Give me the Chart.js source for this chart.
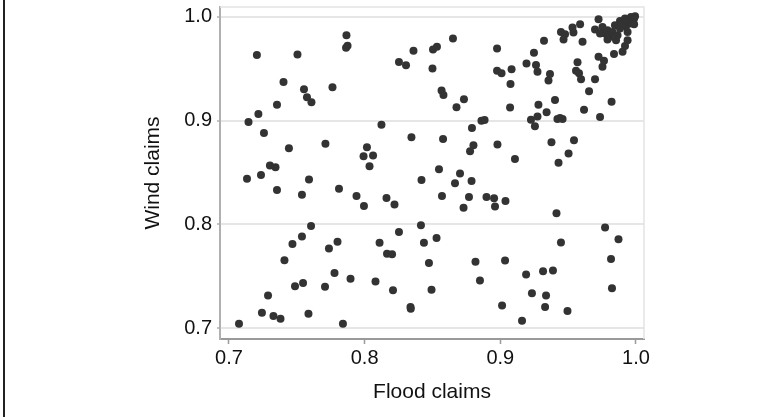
<!DOCTYPE html>
<html>
<head>
<meta charset="utf-8">
<script src="https://cdn.jsdelivr.net/npm/chart.js@4.4.1/dist/chart.umd.min.js"></script>
<style>
    html, body { margin: 0; padding: 0; background: #fff; }
    #wrap { position: relative; width: 784px; height: 417px; }
    #edge { position: absolute; left: 3px; top: 0; width: 2px; height: 417px; background: #222; }
</style>
</head>
<body>
<div id="wrap">
    <canvas id="scatterChart" width="784" height="417"></canvas>
    <div id="edge"></div>
</div>
<script>
const floodClaims = [
    0.7074, 0.7144, 0.7133, 0.7206, 0.7217, 0.7258, 0.7236, 0.7243, 0.7288, 0.7302,
    0.7343, 0.7328, 0.7380, 0.7354, 0.7354, 0.7402, 0.7442, 0.7409, 0.7468, 0.7487,
    0.7505, 0.7538, 0.7538, 0.7546, 0.7553, 0.7575, 0.7608, 0.7590, 0.7605, 0.7586,
    0.7711, 0.7708, 0.7763, 0.7737, 0.7800, 0.7778, 0.7811, 0.7840, 0.7866, 0.7874,
    0.7863, 0.7896, 0.7940, 0.7995, 0.7992, 0.8017, 0.8062, 0.8036, 0.8080, 0.8110,
    0.8124, 0.8161, 0.8165, 0.8202, 0.8220, 0.8209, 0.8253, 0.8305, 0.8253, 0.8345,
    0.8338, 0.8340, 0.8360, 0.8419, 0.8415, 0.8437, 0.8474, 0.8493, 0.8500, 0.8504,
    0.8533, 0.8530, 0.8548, 0.8567, 0.8581, 0.8578, 0.8570, 0.8651, 0.8677, 0.8666,
    0.8703, 0.8732, 0.8729, 0.8769, 0.8788, 0.8777, 0.8802, 0.8791, 0.8817, 0.8850,
    0.8861, 0.8884, 0.8898, 0.8954, 0.8961, 0.8976, 0.8976, 0.9009, 0.8979, 0.9038,
    0.9013, 0.9035, 0.9075, 0.9072, 0.9083, 0.9108, 0.9160, 0.9190, 0.9193, 0.9226,
    0.9233, 0.9248, 0.9255, 0.9263, 0.9274, 0.9281, 0.9274, 0.9322, 0.9315, 0.9330,
    0.9337, 0.9341, 0.9355, 0.9366, 0.9377, 0.9388, 0.9403, 0.9414, 0.9421, 0.9429,
    0.9440, 0.9447, 0.9459, 0.9447, 0.9466, 0.9477, 0.9495, 0.9503, 0.9532, 0.9539,
    0.9543, 0.9558, 0.9569, 0.9580, 0.9588, 0.9595, 0.9606, 0.9617, 0.9654, 0.9698,
    0.9698, 0.9724, 0.9724, 0.9735, 0.9753, 0.9764, 0.9772, 0.9816, 0.9823, 0.9820,
    0.9838, 0.9871, 0.9901, 0.9919, 0.9938, 0.9753, 0.9772, 0.9790, 0.9808, 0.9827,
    0.9845, 0.9864, 0.9882, 0.9882, 0.9901, 0.9919, 0.9926, 0.9938, 0.9949, 0.9956,
    0.9963, 0.9975, 0.9986, 0.9993, 0.9986, 0.9790, 0.9853, 0.9735
];

const windClaims = [
    0.7042, 0.8986, 0.8440, 0.9632, 0.9063, 0.8880, 0.8475, 0.7147, 0.7314, 0.8567,
    0.8551, 0.7115, 0.7090, 0.8330, 0.9153, 0.9373, 0.8734, 0.7653, 0.7810, 0.7403,
    0.9639, 0.7883, 0.8286, 0.7435, 0.9303, 0.9226, 0.9178, 0.8433, 0.7985, 0.7138,
    0.8778, 0.7397, 0.9322, 0.7768, 0.7832, 0.7531, 0.8343, 0.7042, 0.9824, 0.9722,
    0.9703, 0.7474, 0.8273, 0.8177, 0.8657, 0.8743, 0.8663, 0.8561, 0.7448, 0.7822,
    0.8961, 0.8254, 0.7717, 0.7711, 0.8190, 0.7365, 0.9565, 0.9533, 0.7925, 0.8839,
    0.7202, 0.7186, 0.9674, 0.8427, 0.7992, 0.7822, 0.7627, 0.7368, 0.9504, 0.9687,
    0.9712, 0.7867, 0.8532, 0.9290, 0.9248, 0.8823, 0.8273, 0.9792, 0.9130, 0.8395,
    0.8491, 0.9207, 0.8161, 0.8264, 0.8417, 0.8705, 0.8762, 0.8929, 0.7640, 0.7458,
    0.8999, 0.9005, 0.8264, 0.8251, 0.8171, 0.9696, 0.9482, 0.9456, 0.8769, 0.8225,
    0.7218, 0.7650, 0.9354, 0.9127, 0.9495, 0.8631, 0.7071, 0.7515, 0.9552, 0.9009,
    0.7336, 0.9655, 0.8945, 0.9536, 0.9472, 0.9153, 0.9041, 0.9770, 0.7547, 0.7202,
    0.7314, 0.9082, 0.9386, 0.9450, 0.8791, 0.7554, 0.9200, 0.8107, 0.9015, 0.8593,
    0.9025, 0.7825, 0.9015, 0.9856, 0.9782, 0.9834, 0.7163, 0.8682, 0.9898, 0.9850,
    0.8810, 0.9482, 0.9562, 0.9456, 0.9930, 0.9400, 0.9760, 0.9105, 0.9284, 0.9400,
    0.9878, 0.9978, 0.9616, 0.9034, 0.9520, 0.9578, 0.7969, 0.7666, 0.7384, 0.9181,
    0.9642, 0.7857, 0.9664, 0.9719, 0.9776, 0.9904, 0.9840, 0.9872, 0.9808, 0.9856,
    0.9920, 0.9824, 0.9962, 0.9888, 0.9936, 0.9984, 0.9910, 0.9856, 0.9968, 0.9936,
    1.0000, 0.9962, 0.9984, 1.0006, 0.9930, 0.9782, 0.9776, 0.9840
];

const xTicks = [0.7, 0.8, 0.9, 1.0];
const yTicks = [0.7, 0.8, 0.9, 1.0];

// light frame on the top and right of the plot area
const plotFrame = {
    id: 'plotFrame',
    beforeDatasetsDraw(chart) {
        const { ctx, chartArea: a } = chart;
        ctx.save();
        ctx.strokeStyle = '#e4e4e4';
        ctx.lineWidth = 1.5;
        ctx.beginPath();
        ctx.moveTo(a.left, a.top);
        ctx.lineTo(a.right, a.top);
        ctx.lineTo(a.right, a.bottom);
        ctx.stroke();
        ctx.restore();
    }
};

function initChart() {
    const points = floodClaims.map((x, i) => ({ x: x, y: windClaims[i] }));
    const font = 'Liberation Sans, Arial, Helvetica, sans-serif';

    new Chart(document.getElementById('scatterChart'), {
        type: 'scatter',
        data: {
            datasets: [{
                data: points,
                pointRadius: 4,
                pointBackgroundColor: '#333333',
                pointBorderWidth: 0,
                pointHoverRadius: 4
            }]
        },
        options: {
            responsive: false,
            animation: false,
            layout: { padding: { top: 7, right: 140, left: 0, bottom: 0 } },
            plugins: { legend: { display: false }, tooltip: { enabled: false } },
            scales: {
                x: {
                    type: 'linear',
                    min: 0.6934,
                    max: 1.0059,
                    afterBuildTicks: s => { s.ticks = xTicks.map(v => ({ value: v })); },
                    afterFit: s => { s.height = 78; s.paddingLeft = 0; s.paddingRight = 0; },
                    border: { color: '#9a9a9a', width: 2 },
                    grid: { drawOnChartArea: false, drawTicks: true, tickLength: 5, tickColor: '#9a9a9a', tickWidth: 1.5 },
                    ticks: {
                        padding: 2,
                        color: '#111',
                        font: { family: font, size: 20 },
                        callback: v => v.toFixed(1)
                    },
                    title: {
                        display: true,
                        text: 'Flood claims',
                        color: '#111',
                        font: { family: font, size: 21 },
                        padding: { top: 0, bottom: 12 }
                    }
                },
                y: {
                    type: 'linear',
                    min: 0.6894,
                    max: 1.0096,
                    afterBuildTicks: s => { s.ticks = yTicks.map(v => ({ value: v })); },
                    afterFit: s => { s.width = 220; s.paddingTop = 0; s.paddingBottom = 0; },
                    border: { color: '#b0b0b0', width: 2 },
                    grid: { color: '#e6e6e6', lineWidth: 2, tickLength: 3, tickColor: '#b0b0b0', tickWidth: 1.5 },
                    ticks: {
                        padding: 5,
                        color: '#111',
                        font: { family: font, size: 20 },
                        callback: v => v.toFixed(1)
                    },
                    title: {
                        display: true,
                        text: 'Wind claims',
                        color: '#111',
                        font: { family: font, size: 21 },
                        padding: { top: 141, bottom: 0 }
                    }
                }
            }
        },
        plugins: [plotFrame]
    });
}

document.addEventListener('DOMContentLoaded', () => {
    initChart();
});
</script>
</body>
</html>
